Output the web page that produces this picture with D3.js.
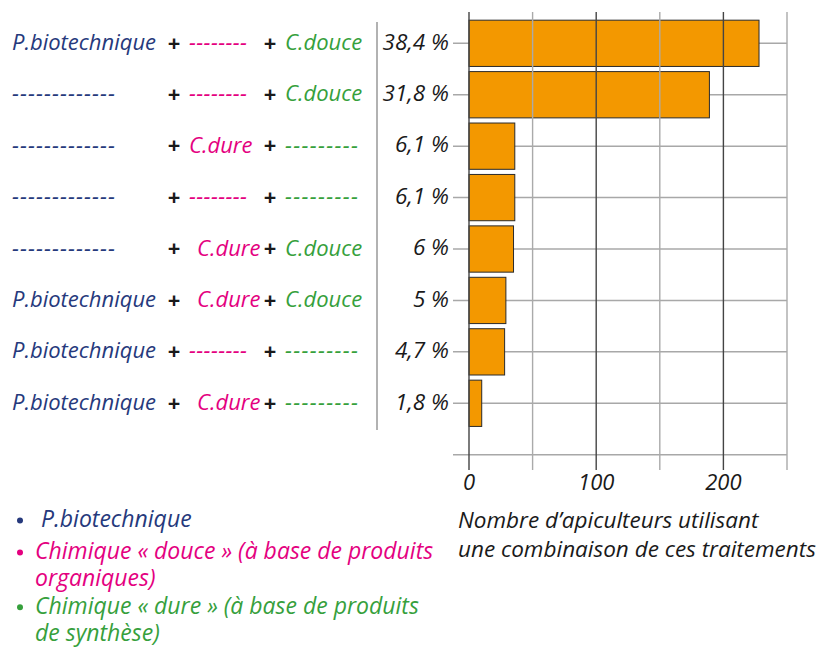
<!DOCTYPE html>
<html>
<head>
<meta charset="utf-8">
<script src="https://cdn.jsdelivr.net/npm/d3@7"></script>
<style>
  body { margin: 0; background: #fff; }
  svg text { font-family: "Open Sans", sans-serif; font-style: italic; }
</style>
</head>
<body>
<svg width="820" height="649"></svg>
<script>
// one entry per row, top to bottom
const bioCol   = ["P.biotechnique","-------------","-------------","-------------",
                  "-------------","P.biotechnique","P.biotechnique","P.biotechnique"];
const dureCol  = ["--------","--------","C.dure","--------",
                  "C.dure","C.dure","--------","C.dure"];
const douceCol = ["C.douce","C.douce","---------","---------",
                  "C.douce","C.douce","---------","---------"];
const pctLabels = ["38,4 %","31,8 %","6,1 %","6,1 %","6 %","5 %","4,7 %","1,8 %"];
const counts    = [228, 189, 36, 36, 35, 29, 28, 10];

const gridTicks  = [0, 50, 100, 150, 200, 250];
const labelTicks = [0, 100, 200];
const axisTitle  = ["Nombre d\u2019apiculteurs utilisant", "une combinaison de ces traitements"];
const legendLines = [
  ["P.biotechnique", "bio", true],
  ["Chimique \u00ab douce \u00bb (\u00e0 base de produits", "douce", true],
  ["organiques)", "douce", false],
  ["Chimique \u00ab dure \u00bb (\u00e0 base de produits", "dure", true],
  ["de synth\u00e8se)", "dure", false]
];

const colors = {bio: "#26397c", douce: "#e4007f", dure: "#36a03c", text: "#1a1a1a"};

function isDash(s){ return s.charAt(0) === "-"; }

function draw(){
  const svg = d3.select("svg");
  const rows = d3.range(counts.length);

  const x = d3.scaleLinear().domain([0, 250]).range([469, 787]);
  const y = d3.scaleBand().domain(rows).range([17.6, 429])
              .paddingInner(0.1).paddingOuter(0.05);
  const yc = i => y(i) + y.bandwidth()/2;
  const yBottom = 429 + y.step()/2;

  // horizontal grid (behind bars)
  const hLines = rows.map(yc).concat([yBottom]);
  svg.append("g").selectAll("line").data(hLines).join("line")
     .attr("x1", 453).attr("x2", x(250))
     .attr("y1", d => d).attr("y2", d => d)
     .style("stroke", "#a8a8a8").style("stroke-width", 1.5);

  // bars
  svg.append("g").selectAll("rect").data(counts).join("rect")
     .attr("x", x(0))
     .attr("y", (d, i) => y(i))
     .attr("width", d => x(d) - x(0))
     .attr("height", y.bandwidth())
     .style("fill", "#f39800")
     .style("stroke", "#2a2a2a")
     .style("stroke-width", 1);

  // vertical grid (over bars)
  svg.append("g").selectAll("line").data(gridTicks).join("line")
     .attr("x1", d => x(d)).attr("x2", d => x(d))
     .attr("y1", 12).attr("y2", 470)
     .style("stroke", d => d % 100 === 0 ? "#444" : "#aaa")
     .style("stroke-width", 1.4);

  // x tick labels
  svg.append("g").selectAll("text").data(labelTicks).join("text")
     .attr("x", d => x(d)).attr("y", 490)
     .attr("text-anchor", "middle")
     .style("font-size", "22px").style("fill", colors.text)
     .text(d => d);

  // axis title
  svg.append("g").selectAll("text").data(axisTitle).join("text")
     .attr("x", 458).attr("y", (d, i) => 527.5 + i*29.5)
     .style("font-size", "22.5px").style("fill", colors.text)
     .text(d => d);

  // separator
  svg.append("line")
     .attr("x1", 377).attr("x2", 377).attr("y1", 22).attr("y2", 430)
     .style("stroke", "#999").style("stroke-width", 1.5);

  // percent labels
  svg.append("g").selectAll("text").data(pctLabels).join("text")
     .attr("x", 449).attr("y", (d, i) => yc(i))
     .attr("dy", "0.28em").attr("text-anchor", "end")
     .style("font-size", "22.5px").style("fill", colors.text)
     .text(d => d);

  // combination labels
  const lab = svg.append("g").style("font-size", "22px");
  function part(s, px, cy, color, dashLen){
    const t = lab.append("text").attr("x", px).attr("y", cy).attr("dy", "0.3em")
                 .style("fill", color).text(s);
    if (isDash(s)) t.attr("textLength", dashLen).attr("lengthAdjust", "spacing");
  }
  function plus(px, cy){
    lab.append("text").attr("x", px).attr("y", cy).attr("dy", "0.33em")
       .attr("text-anchor", "middle").style("font-style", "normal")
       .style("font-weight", "bold")
       .style("fill", colors.text).text("+");
  }
  rows.forEach(function(i){
    const cy = yc(i);
    part(bioCol[i], 12, cy, colors.bio, 103);
    plus(174, cy);
    var dx = (dureCol[i] === "C.dure" && i > 3) ? 197 : 189;
    part(dureCol[i], dx, cy, colors.douce, 58);
    plus(270, cy);
    part(douceCol[i], 285, cy, colors.dure, 73);
  });

  // legend
  const leg = svg.append("g").style("font-size", "23px");
  legendLines.forEach(function(l, i){
    const base = i === 0 ? 527 : 559 + (i - 1)*27.4;
    if (l[2]) {
      leg.append("circle").attr("cx", 20).attr("cy", base - 6.5).attr("r", 3)
         .style("fill", colors[l[1]]);
    }
    leg.append("text").attr("x", i === 0 ? 41 : 35).attr("y", base)
       .style("fill", colors[l[1]]).text(l[0]);
  });
}

window.addEventListener("load", draw);
</script>
</body>
</html>
